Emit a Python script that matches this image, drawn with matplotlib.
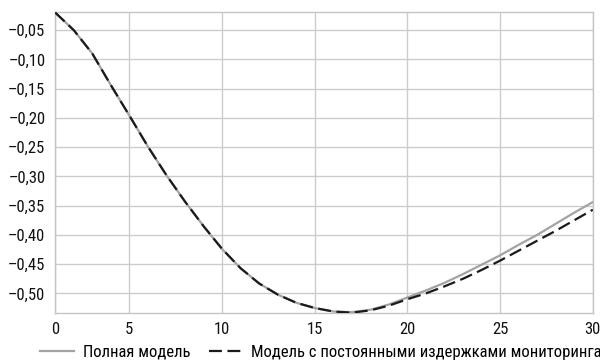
import numpy as np
import matplotlib.pyplot as plt
from matplotlib import font_manager

# Prefer a narrow face when one is installed
names = {f.name for f in font_manager.fontManager.ttflist}
candidates = ['Liberation Sans Narrow', 'Roboto Condensed', 'Arial Narrow', 'Liberation Sans']
family = next(c for c in candidates if c in names or c == 'Liberation Sans')
plt.rcParams['font.family'] = [family, 'DejaVu Sans']

# Periods and model outputs
periods = np.arange(1, 31)
full_model = [-0.020, -0.050, -0.090, -0.144, -0.196, -0.249, -0.298, -0.343, -0.385, -0.424,
              -0.457, -0.483, -0.502, -0.516, -0.525, -0.531, -0.532, -0.528, -0.519, -0.507,
              -0.495, -0.482, -0.467, -0.451, -0.435, -0.417, -0.400, -0.381, -0.362, -0.344]
const_cost_model = [-0.020, -0.050, -0.090, -0.144, -0.196, -0.249, -0.298, -0.343, -0.385, -0.424,
                    -0.457, -0.483, -0.502, -0.516, -0.525, -0.531, -0.533, -0.529, -0.521, -0.510,
                    -0.500, -0.488, -0.475, -0.460, -0.444, -0.427, -0.410, -0.393, -0.375, -0.357]

xtick_pos = [1, 5, 10, 15, 20, 25, 30]
xtick_labels = ['0', '5', '10', '15', '20', '25', '30']
ytick_vals = np.arange(-0.50, -0.04, 0.05)

fig = plt.figure(figsize=(6, 3.63), dpi=100)
ax = fig.add_axes([0.092, 0.137, 0.896, 0.830])

ax.plot(periods, full_model, color='#a3a3a3', lw=1.6, label='Полная модель', zorder=3)
ax.plot(periods, const_cost_model, color='#1a1a1a', lw=1.6, dashes=(5.8, 2.5),
        label='Модель с постоянными издержками мониторинга', zorder=4)

ax.set_xlim(1, 30)
ax.set_ylim(-0.534, -0.019)
ax.set_xticks(xtick_pos)
ax.set_xticklabels(xtick_labels)
ax.set_yticks(ytick_vals)
ax.set_yticklabels([('\u2013%.2f' % abs(v)).replace('.', ',') for v in ytick_vals])

ax.grid(True, color='#cccccc', lw=1)
for s in ax.spines.values():
    s.set_color('#c4c4c4')
    s.set_linewidth(1)
ax.tick_params(length=0, labelsize=12, colors='#111111')
ax.tick_params(axis='x', pad=6)
ax.tick_params(axis='y', pad=7)

fig.legend(loc='center left', bbox_to_anchor=(0.067, 0.03), ncol=2, frameon=False,
           fontsize=12, handlelength=2.0, columnspacing=1.1, handletextpad=0.55,
           borderaxespad=0, borderpad=0)

fig.savefig('out.png', dpi=100)
